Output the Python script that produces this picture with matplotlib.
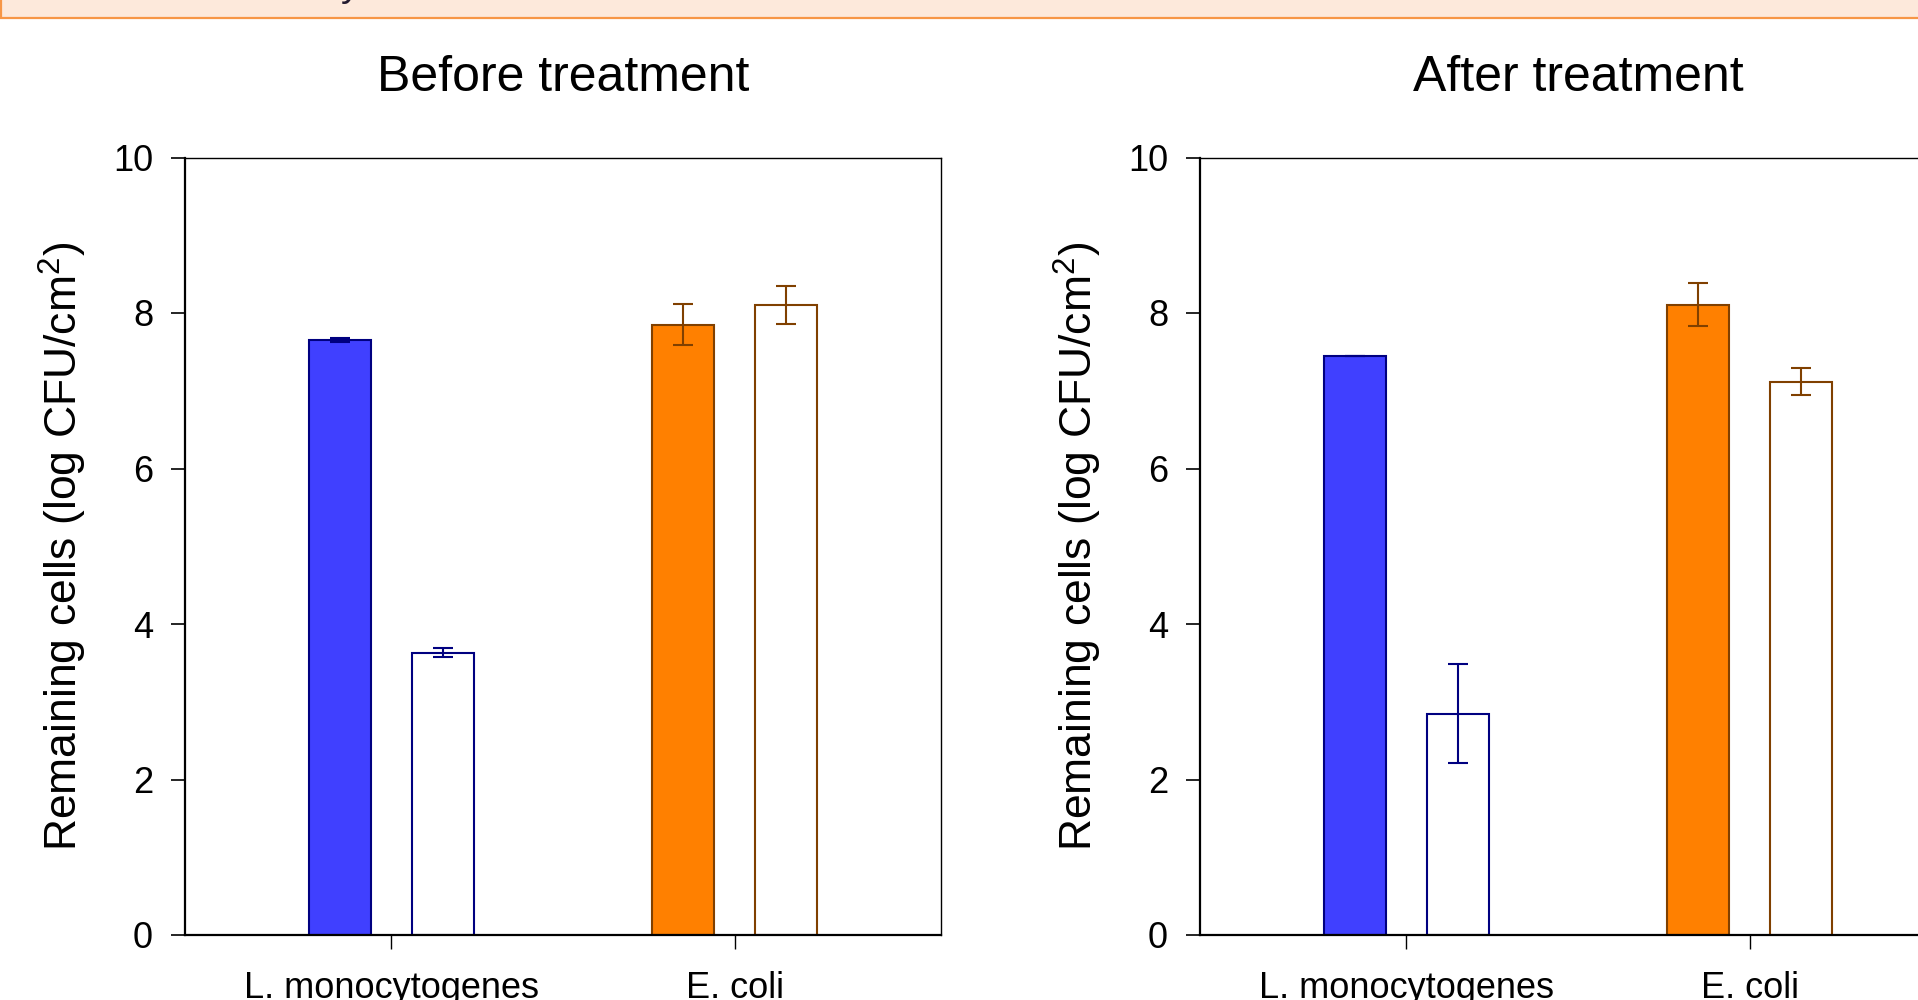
import matplotlib

matplotlib.use("Agg")
import matplotlib.pyplot as plt
import numpy as np
from matplotlib.patches import Rectangle

# data
categories = ["L. monocytogenes", "E. coli"]
panel_titles = ["Before treatment", "After treatment"]

before_filled = [7.65, 7.85]
before_filled_err = [0.025, 0.265]
before_open = [3.63, 8.10]
before_open_err = [0.055, 0.245]

after_filled = [7.445, 8.105]
after_filled_err = [0.0, 0.275]
after_open = [2.845, 7.115]
after_open_err = [0.635, 0.175]

y_ticks = [0, 2, 4, 6, 8, 10]

FILL_COLORS = ["#4040ff", "#ff8000"]
EDGE_COLORS = ["#000080", "#804000"]

plt.rcParams["font.family"] = ["Liberation Sans", "DejaVu Sans"]
plt.rcParams["mathtext.fontset"] = "custom"
plt.rcParams["mathtext.rm"] = "Liberation Sans"
plt.rcParams["mathtext.it"] = "Liberation Sans"

W, H = 1918, 1000
fig = plt.figure(figsize=(W / 100, H / 100), dpi=100)
fig.patch.set_facecolor("white")

# header strip cut off at the top of the screenshot
fig.patches.append(
    Rectangle((0.0003, 1 - 18 / H), 1.1, 30 / H, transform=fig.transFigure,
              facecolor="#fde9db", edgecolor="#f79646", linewidth=1.6, zorder=0)
)
fig.text(351 / W, 1 + 4 / H, "y", fontsize=28, color="#231a2e", va="baseline", ha="center")

ax_w = (941 - 185) / W
ax_h = (935 - 157.5) / H
ax_bottom = 1 - 935 / H
lefts = [185 / W, 1200 / W]

panels = [
    (before_filled, before_filled_err, before_open, before_open_err),
    (after_filled, after_filled_err, after_open, after_open_err),
]

bar_w = 0.18
offset = 0.15
x = np.arange(len(categories))

for left, title, (filled, filled_err, opened, opened_err) in zip(lefts, panel_titles, panels):
    ax = fig.add_axes([left, ax_bottom, ax_w, ax_h])
    err_kw = {"elinewidth": 1.5, "capsize": 7.5, "capthick": 1.5}
    for i in range(len(categories)):
        ax.bar(x[i] - offset, filled[i], bar_w, yerr=filled_err[i],
               color=FILL_COLORS[i], edgecolor=EDGE_COLORS[i], linewidth=1.5,
               error_kw={**err_kw, "ecolor": EDGE_COLORS[i]})
        ax.bar(x[i] + offset, opened[i], bar_w, yerr=opened_err[i],
               color="white", edgecolor=EDGE_COLORS[i], linewidth=1.5,
               error_kw={**err_kw, "ecolor": EDGE_COLORS[i]})

    ax.set_xlim(-0.6, 1.6)
    ax.set_ylim(0, 10)
    ax.set_yticks(y_ticks)
    ax.set_xticks(x)
    ax.set_xticklabels(categories)
    ax.tick_params(axis="y", direction="out", length=10, width=1.2, labelsize=26, pad=13)
    ax.tick_params(axis="x", direction="out", length=10, width=1.0, labelsize=26, pad=16)
    ax.set_ylabel("Remaining cells (log CFU/cm$^2$)", fontsize=32, labelpad=17)
    ax.set_title(title, fontsize=36, pad=48)
    for side in ("left", "bottom"):
        ax.spines[side].set_linewidth(1.6)
    for side in ("top", "right"):
        ax.spines[side].set_linewidth(1.0)

fig.savefig("out.png", dpi=100, facecolor="white")
